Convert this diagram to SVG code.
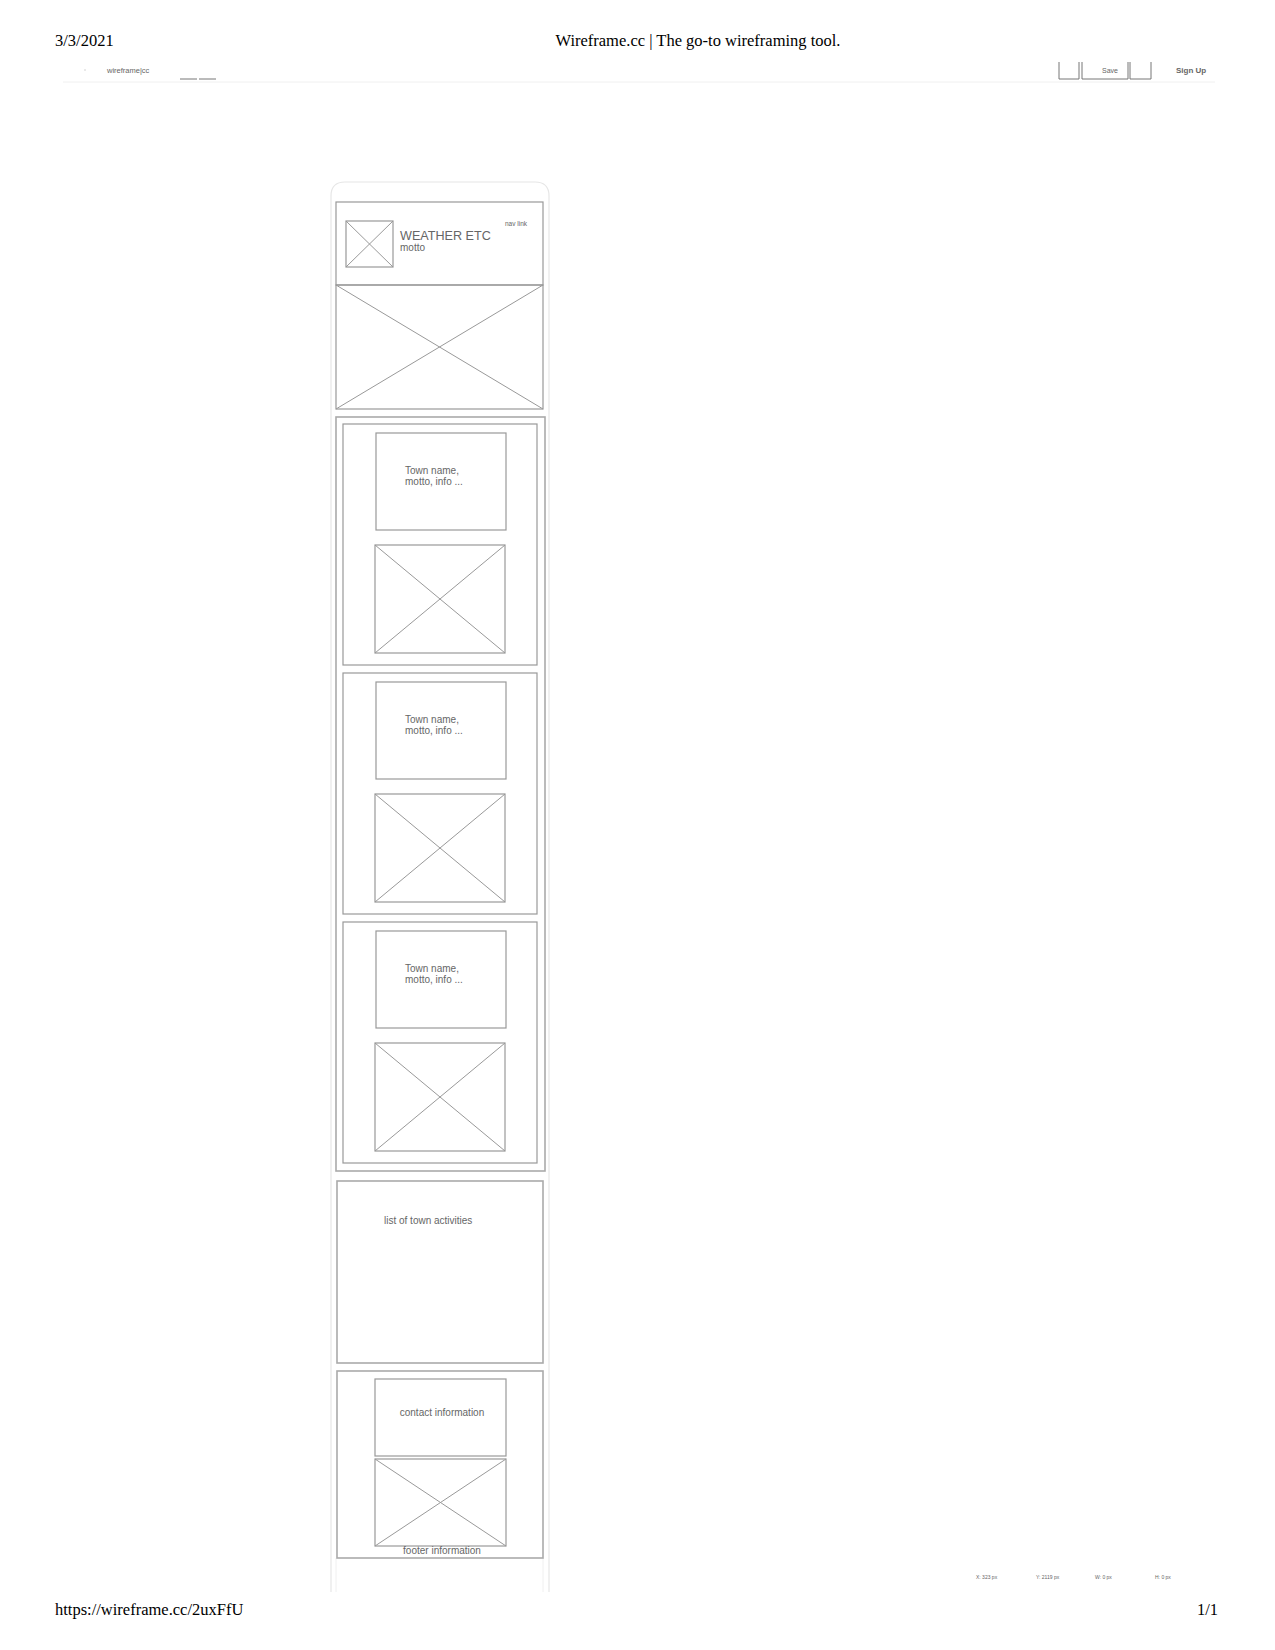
<svg xmlns="http://www.w3.org/2000/svg" width="1275" height="1650" viewBox="0 0 1275 1650">
<style>
.pg{font-family:"Liberation Serif",serif;font-size:16.5px;fill:#000}
.sm{font-family:"Liberation Sans",Arial,sans-serif;fill:#666}
.box{fill:none;stroke:#999;stroke-width:1.2}
.sec{fill:none;stroke:#aaa;stroke-width:1.6}
.x{stroke:#999;stroke-width:1}
.lt{fill:none;stroke:#e6e6e6;stroke-width:1.2}
.tb{fill:none;stroke:#777;stroke-width:1}
</style>
<defs>
<g id="card">
<rect class="box" x="343" y="0" width="194" height="241"/>
<rect class="box" x="376" y="9" width="130" height="97"/>
<text class="sm" font-size="10" x="405" y="50">Town name,</text>
<text class="sm" font-size="10" x="405" y="61">motto, info ...</text>
<rect class="box" x="375" y="121" width="130" height="108"/>
<line class="x" x1="375" y1="121" x2="505" y2="229"/>
<line class="x" x1="505" y1="121" x2="375" y2="229"/>
</g>
</defs>
<rect width="1275" height="1650" fill="#fff"/>
<g id="page-header">
<text class="pg" x="55" y="46">3/3/2021</text>
<text class="pg" x="698" y="46" text-anchor="middle">Wireframe.cc | The go-to wireframing tool.</text>
</g>
<g id="toolbar">
<line x1="63" y1="82" x2="1215" y2="82" stroke="#f0f0f0" stroke-width="1"/>
<circle cx="85" cy="70" r="0.8" fill="#ccc"/>
<text class="sm" font-size="7.5" x="107" y="73" fill="#888">wireframe|cc</text>
<line x1="180" y1="79" x2="197" y2="79" class="tb"/>
<line x1="199" y1="79" x2="216" y2="79" class="tb"/>
<path class="tb" d="M1059 62V79H1079V62M1082 62V79H1128V62M1130 62V79H1151V62"/>
<text class="sm" font-size="7" x="1110" y="73" text-anchor="middle" fill="#bbb">Save</text>
<text class="sm" font-size="8" font-weight="bold" x="1176" y="73" fill="#555">Sign Up</text>
</g>
<g id="phone-frame">
<path class="lt" d="M331 1592V196Q331 182 345 182H535Q549 182 549 196V1592"/>
<line x1="336" y1="1558" x2="336" y2="1592" stroke="#f0f0f0"/>
<line x1="543" y1="1558" x2="543" y2="1592" stroke="#f0f0f0"/>
</g>
<g id="header">
<rect class="box" x="336" y="202" width="207" height="83"/>
<rect class="box" x="346" y="221" width="47" height="46"/>
<line class="x" x1="346" y1="221" x2="393" y2="267"/>
<line class="x" x1="393" y1="221" x2="346" y2="267"/>
<text class="sm" font-size="12.6" x="400" y="240">WEATHER ETC</text>
<text class="sm" font-size="10" x="400" y="251">motto</text>
<text class="sm" font-size="6.5" x="505" y="226" fill="#888">nav link</text>
</g>
<g id="hero">
<rect class="box" x="336" y="285" width="207" height="124"/>
<line class="x" x1="336" y1="285" x2="543" y2="409"/>
<line class="x" x1="543" y1="285" x2="336" y2="409"/>
</g>
<g id="towns">
<rect class="sec" x="336" y="417" width="209" height="754"/>
</g>
<g id="card-1"><use href="#card" y="424"/></g>
<g id="card-2"><use href="#card" y="673"/></g>
<g id="card-3"><use href="#card" y="922"/></g>
<g id="activities">
<rect class="sec" x="337" y="1181" width="206" height="182"/>
<text class="sm" font-size="10" x="384" y="1224">list of town activities</text>
</g>
<g id="footer">
<rect class="sec" x="337" y="1371" width="206" height="187"/>
<rect class="box" x="375" y="1379" width="131" height="77"/>
<text class="sm" font-size="10" x="442" y="1416" text-anchor="middle">contact information</text>
<rect class="box" x="375" y="1459" width="131" height="87"/>
<line class="x" x1="375" y1="1459" x2="506" y2="1546"/>
<line class="x" x1="506" y1="1459" x2="375" y2="1546"/>
<text class="sm" font-size="10" x="442" y="1554" text-anchor="middle">footer information</text>
</g>
<g id="status">
<text class="sm" font-size="5" x="976" y="1579" fill="#999">X: 323 px</text>
<text class="sm" font-size="5" x="1036" y="1579" fill="#999">Y: 2119 px</text>
<text class="sm" font-size="5" x="1095" y="1579" fill="#999">W: 0 px</text>
<text class="sm" font-size="5" x="1155" y="1579" fill="#999">H: 0 px</text>
</g>
<g id="page-footer">
<text class="pg" x="55" y="1615">https://wireframe.cc/2uxFfU</text>
<text class="pg" x="1218" y="1615" text-anchor="end">1/1</text>
</g>
</svg>
